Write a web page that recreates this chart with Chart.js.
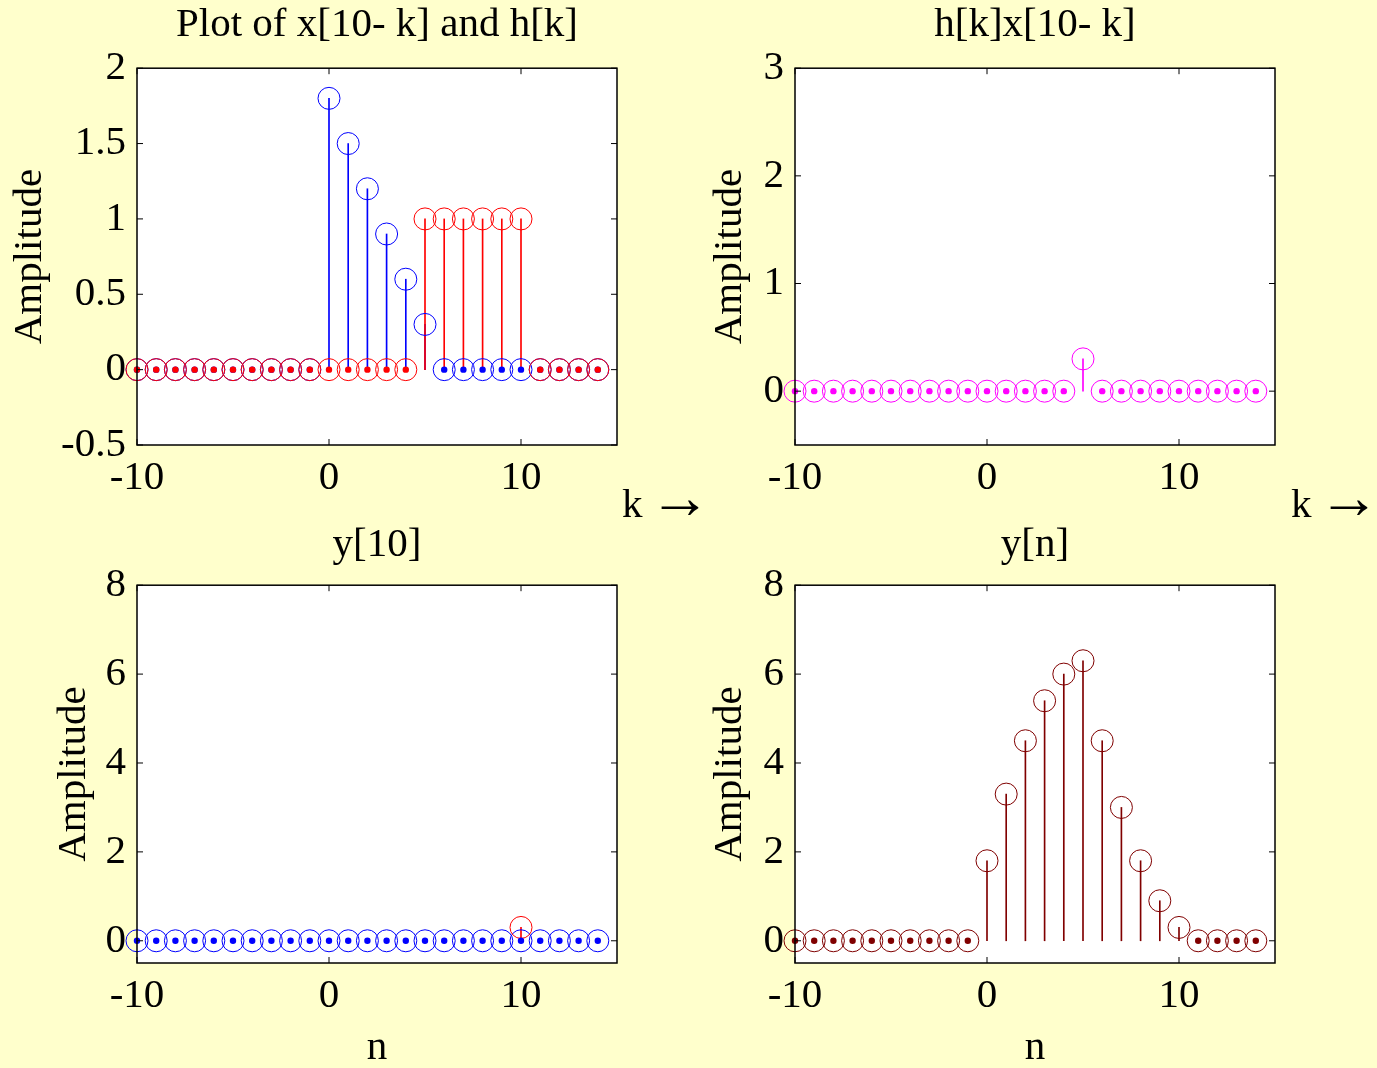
<!DOCTYPE html>
<html>
<head>
<meta charset="utf-8">
<script src="https://cdn.jsdelivr.net/npm/chart.js@4.4.0/dist/chart.umd.min.js"></script>
<style>
  html, body { margin: 0; padding: 0; background: #FFFFCC; overflow: hidden; width: 1377px; height: 1068px; }
  canvas { position: absolute; }
</style>
</head>
<body>
<canvas id="c1" width="720" height="540" style="left:0;top:0"></canvas>
<canvas id="c2" width="717" height="540" style="left:660px;top:0"></canvas>
<canvas id="c3" width="720" height="600" style="left:0;top:500px"></canvas>
<canvas id="c4" width="717" height="600" style="left:660px;top:500px"></canvas>
<script>
// ---- DATA ----
const kVals = [-10, -9, -8, -7, -6, -5, -4, -3, -2, -1, 0, 1, 2, 3, 4, 5, 6, 7, 8, 9, 10, 11, 12, 13, 14];
const hVals = [0, 0, 0, 0, 0, 0, 0, 0, 0, 0, 1.8, 1.5, 1.2, 0.9, 0.6, 0.3, 0, 0, 0, 0, 0, 0, 0, 0, 0];
const xRevVals = [0, 0, 0, 0, 0, 0, 0, 0, 0, 0, 0, 0, 0, 0, 0, 1, 1, 1, 1, 1, 1, 0, 0, 0, 0];
const prodVals = [0, 0, 0, 0, 0, 0, 0, 0, 0, 0, 0, 0, 0, 0, 0, 0.3, 0, 0, 0, 0, 0, 0, 0, 0, 0];
const nVals = [-10, -9, -8, -7, -6, -5, -4, -3, -2, -1, 0, 1, 2, 3, 4, 5, 6, 7, 8, 9, 10, 11, 12, 13, 14];
const y10ZeroVals = [0, 0, 0, 0, 0, 0, 0, 0, 0, 0, 0, 0, 0, 0, 0, 0, 0, 0, 0, 0, 0, 0, 0, 0, 0];
const y10N = [10];
const y10Vals = [0.3];
const yVals = [0, 0, 0, 0, 0, 0, 0, 0, 0, 0, 1.8, 3.3, 4.5, 5.4, 6.0, 6.3, 4.5, 3.0, 1.8, 0.9, 0.3, 0, 0, 0, 0];

const xTicks = [-10, 0, 10];
const yTicksTopLeft = [-0.5, 0, 0.5, 1, 1.5, 2];
const yTicksTopRight = [0, 1, 2, 3];
const yTicksBottom = [0, 2, 4, 6, 8];

// ---- STYLE ----
const FAMILY = "'Liberation Serif', 'Times New Roman', serif";
const FONT = { family: FAMILY, size: 41, weight: "normal" };
Chart.defaults.font.family = FAMILY;
Chart.defaults.font.size = 41;
Chart.defaults.color = "#000";

// stem = thin bar + open circle + dot where the value is zero
function stemSets(xs, ys, color, rank) {
  const pts = xs.map((x, i) => ({ x: x, y: ys[i] }));
  return [
    { type: "bar", data: pts, backgroundColor: color, barThickness: 1, grouped: false, clip: false, order: 30 + rank },
    { type: "scatter", data: pts, pointStyle: "circle", pointRadius: 11, pointBorderWidth: 1,
      pointBorderColor: color, pointBackgroundColor: "rgba(0,0,0,0)", clip: false, order: 20 + rank },
    { type: "scatter", data: pts, pointStyle: "circle", pointRadius: c => (c.raw && c.raw.y === 0 ? 3.2 : 0),
      pointBorderWidth: 0, pointBackgroundColor: color, pointBorderColor: color, clip: false, order: 10 + rank }
  ];
}

const plotBg = {
  id: "plotBg",
  beforeDatasetsDraw(chart) {
    const a = chart.chartArea, ctx = chart.ctx;
    ctx.save();
    ctx.fillStyle = "#FFFFFF";
    ctx.fillRect(a.left, a.top, a.right - a.left, a.bottom - a.top);
    ctx.restore();
  }
};

const frame = {
  id: "frame",
  afterDraw(chart) {
    const a = chart.chartArea, ctx = chart.ctx;
    const len = 6;
    ctx.save();
    ctx.strokeStyle = "#000";
    ctx.lineWidth = 1.5;
    ctx.strokeRect(a.left, a.top, a.right - a.left, a.bottom - a.top);
    ctx.lineWidth = 1;
    ctx.beginPath();
    chart.scales.x.ticks.forEach(t => {
      const px = chart.scales.x.getPixelForValue(t.value);
      ctx.moveTo(px, a.bottom); ctx.lineTo(px, a.bottom - len);
      ctx.moveTo(px, a.top); ctx.lineTo(px, a.top + len);
    });
    chart.scales.y.ticks.forEach(t => {
      const py = chart.scales.y.getPixelForValue(t.value);
      ctx.moveTo(a.left, py); ctx.lineTo(a.left + len, py);
      ctx.moveTo(a.right, py); ctx.lineTo(a.right - len, py);
    });
    ctx.stroke();
    ctx.restore();
  }
};

// "k →" label to the right of the x axis
const kLabel = {
  id: "kLabel",
  afterDraw(chart, args, opts) {
    if (!opts || !opts.text) return;
    const a = chart.chartArea, ctx = chart.ctx;
    const x0 = a.right + opts.dx, y0 = a.bottom + 72;
    ctx.save();
    ctx.fillStyle = "#000";
    ctx.textBaseline = "alphabetic";
    ctx.textAlign = "left";
    ctx.font = "41px " + FAMILY;
    ctx.fillText(opts.text, x0, y0);
    const w = ctx.measureText(opts.text + " ").width;
    ctx.font = "62px " + FAMILY;
    ctx.fillText("\u2192", x0 + w - 4, y0 + 1);
    ctx.restore();
  }
};

function makeChart(id, cfg) {
  return new Chart(document.getElementById(id), {
    type: "bar",
    data: { datasets: cfg.datasets },
    options: {
      responsive: false,
      animation: false,
      events: [],
      layout: { padding: cfg.padding },
      plugins: {
        legend: { display: false },
        tooltip: { enabled: false },
        title: { display: true, text: cfg.title, fullSize: false, color: "#000", font: FONT, padding: cfg.titlePad },
        kLabel: { text: cfg.kText || "", dx: cfg.kDx || 0 }
      },
      scales: {
        x: {
          type: "linear", min: -10, max: 15, offset: false,
          grid: { display: false, drawTicks: false }, border: { display: false },
          afterBuildTicks: s => { s.ticks = xTicks.map(v => ({ value: v })); },
          afterFit: s => { s.height = cfg.xHeight; },
          ticks: { padding: 9, color: "#000", font: FONT, maxRotation: 0, autoSkip: false, callback: v => String(v) },
          title: cfg.xTitle ? { display: true, text: cfg.xTitle, color: "#000", font: FONT, padding: 0 } : { display: false }
        },
        y: {
          type: "linear", min: cfg.yMin, max: cfg.yMax,
          grid: { display: false, drawTicks: false }, border: { display: false },
          afterBuildTicks: s => { s.ticks = cfg.yTicks.map(v => ({ value: v })); },
          afterFit: s => { s.width = cfg.yWidth; },
          ticks: { padding: 11, color: "#000", font: FONT, autoSkip: false, callback: v => String(v) },
          title: { display: true, text: "Amplitude", color: "#000", font: FONT, padding: 0 }
        }
      }
    },
    plugins: [plotBg, frame, kLabel]
  });
}

makeChart("c1", {
  title: "Plot of x[10- k] and h[k]",
  datasets: [...stemSets(kVals, hVals, "#0000FF", 1), ...stemSets(kVals, xRevVals, "#FF0000", 0)],
  padding: { left: 6, right: 103, top: 0, bottom: 35 },
  titlePad: { top: 1, bottom: 18 },
  xHeight: 60, yWidth: 131,
  yMin: -0.5, yMax: 2, yTicks: yTicksTopLeft,
  kText: "k", kDx: 5
});

makeChart("c2", {
  title: "h[k]x[10- k]",
  datasets: stemSets(kVals, prodVals, "#FF00FF", 0),
  padding: { left: 46, right: 102, top: 0, bottom: 35 },
  titlePad: { top: 1, bottom: 18 },
  xHeight: 60, yWidth: 89,
  yMin: -0.5, yMax: 3, yTicks: yTicksTopRight,
  kText: "k", kDx: 16
});

makeChart("c3", {
  title: "y[10]",
  datasets: [...stemSets(nVals, y10ZeroVals, "#0000FF", 1), ...stemSets(y10N, y10Vals, "#FF0000", 0)],
  padding: { left: 50, right: 103, top: 0, bottom: 27 },
  titlePad: { top: 21, bottom: 15 },
  xHeight: 110, yWidth: 87, xTitle: "n",
  yMin: -0.5, yMax: 8, yTicks: yTicksBottom
});

makeChart("c4", {
  title: "y[n]",
  datasets: stemSets(nVals, yVals, "#800000", 0),
  padding: { left: 46, right: 102, top: 0, bottom: 27 },
  titlePad: { top: 21, bottom: 15 },
  xHeight: 110, yWidth: 89, xTitle: "n",
  yMin: -0.5, yMax: 8, yTicks: yTicksBottom
});
</script>
</body>
</html>
